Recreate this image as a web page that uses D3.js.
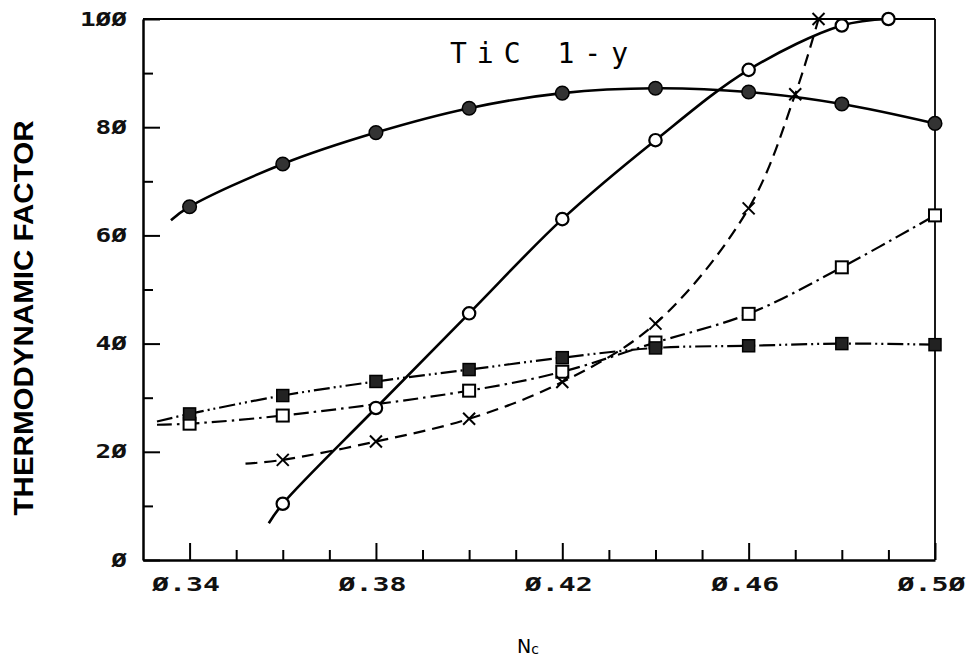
<!DOCTYPE html>
<html>
<head>
<meta charset="utf-8">
<script src="https://cdn.jsdelivr.net/npm/d3@7"></script>
<style>
    body { margin: 0; background: #fff; }
    svg { display: block; }
    .tick text { font-family: "DejaVu Sans Mono", monospace; font-weight: bold; font-size: 19px; fill: #111; }
</style>
</head>
<body>
<svg id="chart"></svg>
<script>
// Values (N_c vs thermodynamic factor, TiC 1-y)
const ncAll = [0.34, 0.36, 0.38, 0.40, 0.42, 0.44, 0.46, 0.48, 0.50];

const filledCircleY = [65.3, 73.2, 79.0, 83.5, 86.3, 87.2, 86.5, 84.3, 80.7];
const filledCircleLeadIn = [0.336, 62.8];

const openCircleX = [0.36, 0.38, 0.40, 0.42, 0.44, 0.46, 0.48, 0.49];
const openCircleY = [10.4, 28.1, 45.6, 63.0, 77.6, 90.6, 98.8, 100];
const openCircleLeadIn = [0.357, 6.8];

const crossX = [0.36, 0.38, 0.40, 0.42, 0.44, 0.46, 0.47, 0.475];
const crossY = [18.5, 21.9, 26.1, 32.9, 43.7, 65.0, 86.1, 100];
const crossLeadIn = [0.352, 17.8];

const openSquareX = [0.34, 0.36, 0.40, 0.42, 0.44, 0.46, 0.48, 0.50];
const openSquareY = [25.2, 26.7, 31.3, 34.8, 40.2, 45.5, 54.1, 63.7];
const openSquareLeadIn = [0.333, 25.0];

const filledSquareY = [27.0, 30.4, 33.0, 35.2, 37.4, 39.2, 39.6, 40.0, 39.8];
const filledSquareLeadIn = [0.333, 25.6];

const xMajor = [0.34, 0.38, 0.42, 0.46, 0.50];
const xMinor = [0.35, 0.36, 0.37, 0.39, 0.40, 0.41, 0.43, 0.44, 0.45, 0.47, 0.48, 0.49];
const yMajor = [0, 20, 40, 60, 80, 100];
const yMinor = [10, 30, 50, 70, 90];

const width = 967, height = 656;

const svg = d3.select("#chart")
    .attr("width", width)
    .attr("height", height);

const x = d3.scaleLinear().domain([0.33, 0.50]).range([143, 935]);
const y = d3.scaleLinear().domain([0, 100]).range([560, 19]);

const slashZero = s => s.replace(/0/g, "\u00D8");

// minor ticks first
svg.append("g")
    .attr("transform", `translate(0,${y(0)})`)
    .call(d3.axisBottom(x).tickValues(xMinor).tickSize(-10).tickFormat(""))
    .call(g => g.select(".domain").remove())
    .selectAll("line").attr("stroke-width", 2);

svg.append("g")
    .attr("transform", `translate(${x(0.33)},0)`)
    .call(d3.axisLeft(y).tickValues(yMinor).tickSize(-10).tickFormat(""))
    .call(g => g.select(".domain").remove())
    .selectAll("line").attr("stroke-width", 2);

// major ticks + labels
const xAxis = svg.append("g")
    .attr("transform", `translate(0,${y(0)})`)
    .call(d3.axisBottom(x).tickValues(xMajor).tickSize(-17).tickSizeOuter(0).tickPadding(18)
        .tickFormat(d => slashZero(d3.format(".2f")(d))));
xAxis.select(".domain").attr("stroke-width", 2.5);
xAxis.selectAll("line").attr("stroke-width", 2);
xAxis.selectAll("text")
    .attr("dx", -4)
    .attr("textLength", 68)
    .attr("lengthAdjust", "spacingAndGlyphs");

const yAxis = svg.append("g")
    .attr("transform", `translate(${x(0.33)},0)`)
    .call(d3.axisLeft(y).tickValues(yMajor).tickSize(-17).tickSizeOuter(0).tickPadding(16)
        .tickFormat(d => slashZero(String(d))));
yAxis.select(".domain").attr("stroke-width", 2.5);
yAxis.selectAll("line").attr("stroke-width", 2);
yAxis.selectAll("text")
    .attr("textLength", function () { return this.textContent.length * 15.7; })
    .attr("lengthAdjust", "spacingAndGlyphs");

// top and right border
svg.append("line")
    .attr("x1", x(0.33)).attr("x2", x(0.50))
    .attr("y1", y(100)).attr("y2", y(100))
    .attr("stroke", "#000").attr("stroke-width", 2);
svg.append("line")
    .attr("x1", x(0.50)).attr("x2", x(0.50))
    .attr("y1", y(100)).attr("y2", y(0))
    .attr("stroke", "#000").attr("stroke-width", 1.8);

// curves
const line = d3.line()
    .x(d => x(d[0]))
    .y(d => y(d[1]))
    .curve(d3.curveCatmullRom.alpha(0.5));

function pairs(xs, ys, leadIn) {
    return [leadIn].concat(xs.map((v, i) => [v, ys[i]]));
}

const series = [
    { pts: pairs(ncAll, filledSquareY, filledSquareLeadIn), dash: "16,4,2,4,2,4", w: 2.2 },
    { pts: pairs(openSquareX, openSquareY, openSquareLeadIn), dash: "15,5,2.5,5", w: 2.2 },
    { pts: pairs(crossX, crossY, crossLeadIn), dash: "12,7", w: 2.2 },
    { pts: pairs(ncAll, filledCircleY, filledCircleLeadIn), dash: null, w: 2.6 },
    { pts: pairs(openCircleX, openCircleY, openCircleLeadIn), dash: null, w: 2.6 }
];

svg.append("g").selectAll("path")
    .data(series)
    .join("path")
    .attr("d", d => line(d.pts))
    .attr("fill", "none")
    .attr("stroke", "#000")
    .attr("stroke-width", d => d.w)
    .attr("stroke-dasharray", d => d.dash);

// markers
const marks = svg.append("g");

marks.selectAll(".osq")
    .data(openSquareX.map((v, i) => [v, openSquareY[i]]))
    .join("rect")
    .attr("x", d => x(d[0]) - 6).attr("y", d => y(d[1]) - 6)
    .attr("width", 12).attr("height", 12)
    .attr("fill", "#fff").attr("stroke", "#000").attr("stroke-width", 2);

marks.selectAll(".fsq")
    .data(ncAll.map((v, i) => [v, filledSquareY[i]]))
    .join("rect")
    .attr("x", d => x(d[0]) - 6).attr("y", d => y(d[1]) - 6)
    .attr("width", 12).attr("height", 12)
    .attr("fill", "#222").attr("stroke", "#000").attr("stroke-width", 1.5);

marks.selectAll(".cross")
    .data(crossX.map((v, i) => [v, crossY[i]]))
    .join("path")
    .attr("d", d => {
        const cx = x(d[0]), cy = y(d[1]), s = 6;
        return `M${cx - s},${cy - s}L${cx + s},${cy + s}M${cx - s},${cy + s}L${cx + s},${cy - s}`;
    })
    .attr("stroke", "#000").attr("stroke-width", 2);

marks.selectAll(".fcirc")
    .data(ncAll.map((v, i) => [v, filledCircleY[i]]))
    .join("circle")
    .attr("cx", d => x(d[0])).attr("cy", d => y(d[1]))
    .attr("r", 6.8)
    .attr("fill", "#333").attr("stroke", "#000").attr("stroke-width", 1.5);

marks.selectAll(".ocirc")
    .data(openCircleX.map((v, i) => [v, openCircleY[i]]))
    .join("circle")
    .attr("cx", d => x(d[0])).attr("cy", d => y(d[1]))
    .attr("r", 6.2)
    .attr("fill", "#fff").attr("stroke", "#000").attr("stroke-width", 2.2);

// texts
svg.append("text")
    .attr("x", 450).attr("y", 63)
    .attr("textLength", 178)
    .attr("lengthAdjust", "spacing")
    .style("font-family", "'DejaVu Sans Mono', monospace")
    .style("font-size", "28px")
    .text("TiC 1-y");

svg.append("text")
    .attr("transform", "translate(33,318) rotate(-90)")
    .attr("text-anchor", "middle")
    .attr("textLength", 395)
    .attr("lengthAdjust", "spacingAndGlyphs")
    .style("font-family", "'Liberation Sans', Arial, sans-serif")
    .style("font-weight", "bold")
    .style("font-size", "28px")
    .text("THERMODYNAMIC FACTOR");

const nLabel = svg.append("text")
    .attr("x", 517).attr("y", 653)
    .style("font-family", "'DejaVu Sans', sans-serif")
    .style("font-size", "19px");
nLabel.append("tspan").text("N");
nLabel.append("tspan").attr("dy", 1).style("font-size", "14px").text("c");
</script>
</body>
</html>
